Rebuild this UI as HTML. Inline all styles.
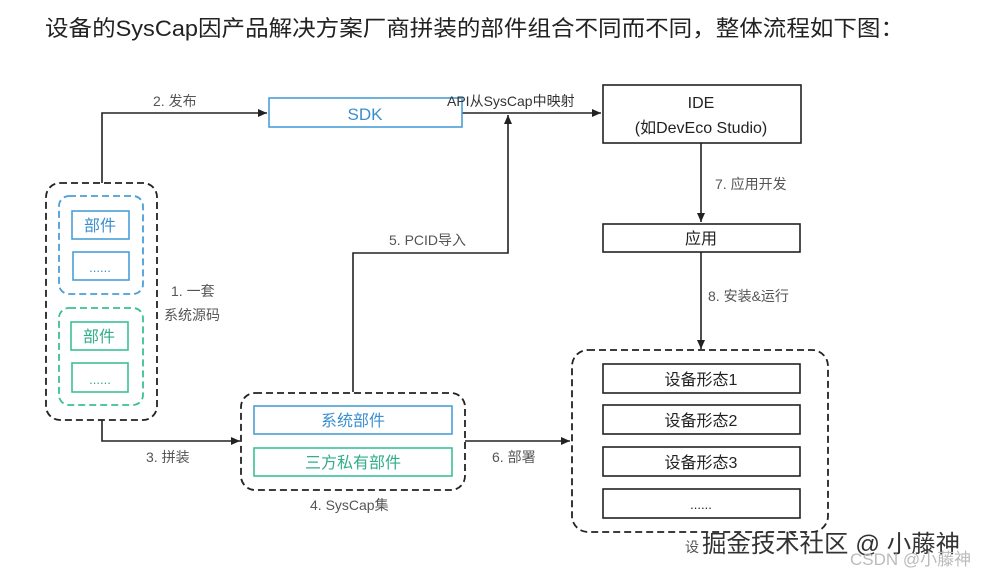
<!DOCTYPE html>
<html><head><meta charset="utf-8"><style>
body{margin:0;background:#fff;}
svg{display:block;font-family:"Liberation Sans","Noto Sans CJK SC",sans-serif;}
</style></head><body>
<svg width="981" height="576" viewBox="0 0 981 576" xmlns="http://www.w3.org/2000/svg">
<defs><marker id="a" markerWidth="10" markerHeight="10" refX="9" refY="5" orient="auto" markerUnits="userSpaceOnUse"><path d="M0,1 L9,5 L0,9 Z" fill="#222"/></marker></defs>
<text x="45" y="36" font-size="22" fill="#222" textLength="859" lengthAdjust="spacingAndGlyphs">设备的SysCap因产品解决方案厂商拼装的部件组合不同而不同，整体流程如下图：</text>
<g fill="none" stroke="#222" stroke-width="1.6">
<polyline points="102,183 102,113 267,113" marker-end="url(#a)"/>
<line x1="462" y1="113" x2="601" y2="113" marker-end="url(#a)"/>
<polyline points="353,392 353,253 508,253 508,115" marker-end="url(#a)"/>
<line x1="701" y1="143" x2="701" y2="222" marker-end="url(#a)"/>
<line x1="701" y1="252" x2="701" y2="349" marker-end="url(#a)"/>
<polyline points="102,420 102,441 240,441" marker-end="url(#a)"/>
<line x1="465" y1="441" x2="570" y2="441" marker-end="url(#a)"/>
</g>
<g fill="none" stroke-width="1.8" stroke-dasharray="7,4">
<rect x="46" y="183" width="111" height="237" rx="14" stroke="#222"/>
<rect x="59" y="196" width="84" height="98" rx="10" stroke="#4a9fd8"/>
<rect x="59" y="308" width="84" height="97" rx="10" stroke="#3cbf98"/>
<rect x="241" y="393" width="224" height="97" rx="14" stroke="#222"/>
<rect x="572" y="350" width="256" height="182" rx="16" stroke="#222"/>
</g>
<g fill="#fff" stroke-width="1.6">
<rect x="269" y="98" width="193" height="29" stroke="#4a9fd8"/>
<rect x="603" y="85" width="198" height="58" stroke="#222"/>
<rect x="603" y="224" width="197" height="28" stroke="#222"/>
<rect x="72" y="211" width="57" height="28" stroke="#4a9fd8"/>
<rect x="73" y="252" width="56" height="28" stroke="#4a9fd8"/>
<rect x="71" y="322" width="57" height="28" stroke="#3cbf98"/>
<rect x="72" y="363" width="56" height="29" stroke="#3cbf98"/>
<rect x="254" y="406" width="198" height="28" stroke="#4a9fd8"/>
<rect x="254" y="448" width="198" height="28" stroke="#3cbf98"/>
<rect x="603" y="364" width="197" height="29" stroke="#222"/>
<rect x="603" y="405" width="197" height="29" stroke="#222"/>
<rect x="603" y="447" width="197" height="29" stroke="#222"/>
<rect x="603" y="489" width="197" height="29" stroke="#222"/>
</g>
<g font-size="16" text-anchor="middle">
<text x="365" y="120" fill="#3a8fd0" font-size="17">SDK</text>
<text x="701" y="108" fill="#222">IDE</text>
<text x="701" y="133" fill="#222">(如DevEco Studio)</text>
<text x="701" y="244" fill="#222">应用</text>
<text x="100" y="231" fill="#3a8fd0">部件</text>
<text x="100" y="272" fill="#3a8fd0" font-size="13">......</text>
<text x="99" y="342" fill="#2fae88">部件</text>
<text x="100" y="384" fill="#2fae88" font-size="13">......</text>
<text x="353" y="426" fill="#3a8fd0">系统部件</text>
<text x="353" y="468" fill="#2fae88">三方私有部件</text>
<text x="701" y="385" fill="#222">设备形态1</text>
<text x="701" y="426" fill="#222">设备形态2</text>
<text x="701" y="468" fill="#222">设备形态3</text>
<text x="701" y="509" fill="#222" font-size="13">......</text>
</g>
<g font-size="14" fill="#555">
<text x="153" y="106">2. 发布</text>
<text x="447" y="106" fill="#333">API从SysCap中映射</text>
<text x="389" y="245">5. PCID导入</text>
<text x="715" y="189">7. 应用开发</text>
<text x="708" y="301">8. 安装&amp;运行</text>
<text x="171" y="296">1. 一套</text>
<text x="164" y="320">系统源码</text>
<text x="146" y="462">3. 拼装</text>
<text x="492" y="462">6. 部署</text>
<text x="310" y="510">4. SysCap集</text>
<text x="685" y="552">设</text>
</g>
<text x="702" y="552" font-size="24" fill="#333" textLength="258" lengthAdjust="spacingAndGlyphs">掘金技术社区 @ 小藤神</text>
<text x="850" y="565" font-size="17" fill="#bbb">CSDN @小藤神</text>
</svg>
</body></html>
